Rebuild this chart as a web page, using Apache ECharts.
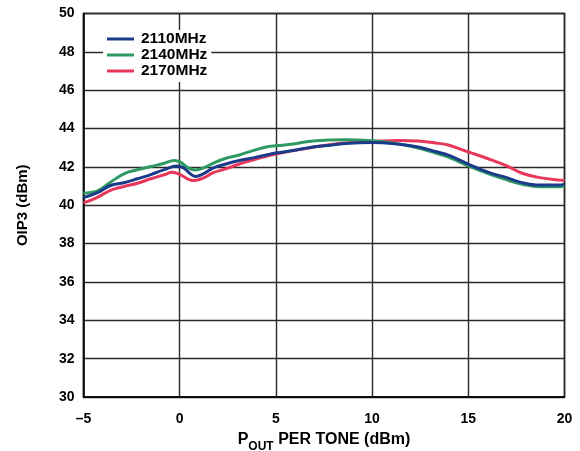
<!DOCTYPE html>
<html>
<head>
<meta charset="utf-8">
<script src="https://cdn.jsdelivr.net/npm/echarts@6/dist/echarts.min.js"></script>
<style>html,body{margin:0;padding:0;background:#fff}#c{width:580px;height:451px}</style>
</head>
<body>
<div id="c"></div>
<script>
const seriesNames = ['2110MHz', '2140MHz', '2170MHz'];
const xTicks = [-5, 0, 5, 10, 15, 20];
const yTicks = [30, 32, 34, 36, 38, 40, 42, 44, 46, 48, 50];

const x2110 = [-5, -4.3, -3.6, -2.9, -2.2, -1.5, -0.8, -0.15, 0.2, 0.55, 0.8, 1.25, 1.75, 2.4, 3.1, 3.8, 4.5, 5, 5.9, 6.7, 7.7, 8.6, 10, 11.4, 12.4, 13.3, 14, 15, 16.1, 17, 17.8, 18.7, 19.75, 20];
const y2110 = [40.40, 40.64, 41.03, 41.17, 41.38, 41.6, 41.86, 42.05, 41.95, 41.64, 41.5, 41.65, 41.95, 42.15, 42.33, 42.47, 42.62, 42.72, 42.86, 43.0, 43.12, 43.22, 43.27, 43.18, 43.04, 42.8, 42.6, 42.14, 41.7, 41.44, 41.18, 41.05, 41.05, 41.1];

const x2140 = [-5, -4.3, -3.6, -2.9, -2.2, -1.5, -0.8, -0.3, 0.05, 0.4, 0.8, 1.25, 1.75, 2.4, 3.1, 3.8, 4.5, 5, 5.9, 6.7, 7.7, 8.6, 10, 11.4, 12.4, 13.3, 14, 15, 16.1, 17, 17.8, 18.7, 19.75, 20];
const y2140 = [40.64, 40.74, 41.2, 41.64, 41.85, 42.02, 42.19, 42.33, 42.24, 41.98, 41.84, 41.95, 42.2, 42.45, 42.62, 42.85, 43.04, 43.1, 43.19, 43.33, 43.4, 43.42, 43.36, 43.19, 42.98, 42.72, 42.5, 42.05, 41.62, 41.32, 41.1, 40.96, 40.96, 41.0];

const x2170 = [-5, -4.3, -3.6, -2.9, -2.2, -1.5, -0.8, -0.4, 0.05, 0.4, 0.75, 1.25, 1.75, 2.4, 3.1, 3.8, 4.5, 5, 5.9, 6.7, 7.7, 8.6, 10, 11.4, 12.4, 13.3, 14, 15, 16.1, 17, 17.8, 18.7, 19.75, 20];
const y2170 = [40.12, 40.4, 40.78, 40.98, 41.15, 41.38, 41.59, 41.72, 41.59, 41.38, 41.29, 41.43, 41.7, 41.9, 42.15, 42.36, 42.55, 42.67, 42.85, 42.99, 43.14, 43.25, 43.33, 43.38, 43.35, 43.25, 43.13, 42.78, 42.4, 42.05, 41.67, 41.44, 41.31, 41.3];

const colors = ['#1b3a8a', '#2e9a62', '#e8375b'];
const zip = (xs, ys) => xs.map((x, i) => [x, ys[i]]);
const datasets = [zip(x2110, y2110), zip(x2140, y2140), zip(x2170, y2170)];

const font = 'Liberation Sans, Arial, Helvetica, sans-serif';
const chart = echarts.init(document.getElementById('c'), null, {renderer: 'canvas'});
chart.setOption({
  animation: false,
  backgroundColor: '#fff',
  grid: {left: 83.5, top: 13.5, right: 15.5, bottom: 54, containLabel: false, outerBoundsMode: 'none',
    show: true, borderColor: '#000', borderWidth: 1.5, backgroundColor: 'transparent'},
  legend: {
    orient: 'vertical', left: 103, top: 30, itemWidth: 27, itemHeight: 3, itemGap: 0,
    icon: 'rect', backgroundColor: '#fff', padding: [1, 4, 3, 4],
    textStyle: {fontFamily: font, fontWeight: 'bold', fontSize: 15.5, lineHeight: 16, color: '#000', padding: [0, 0, 0, 2]},
    data: seriesNames
  },
  xAxis: {
    type: 'value', min: xTicks[0], max: xTicks[xTicks.length - 1], interval: 5,
    axisLine: {show: true, onZero: false, lineStyle: {color: '#000', width: 1.5}},
    axisTick: {show: false},
    splitLine: {show: true, lineStyle: {color: '#2a2a2a', width: 1.4}},
    axisLabel: {fontFamily: font, fontWeight: 'bold', fontSize: 14, color: '#000', margin: 15,
      formatter: v => (v < 0 ? '\u2013' + Math.abs(v) : String(v))},
    name: '{p|P}{s|OUT}{p| PER TONE (dBm)}', nameLocation: 'middle', nameGap: 35,
    nameTextStyle: {rich: {
      p: {fontFamily: font, fontWeight: 'bold', fontSize: 16, color: '#000', verticalAlign: 'top', lineHeight: 18},
      s: {fontFamily: font, fontWeight: 'bold', fontSize: 12, color: '#000', padding: [9, 0, 0, 0], verticalAlign: 'top', lineHeight: 18}
    }}
  },
  yAxis: {
    type: 'value', min: yTicks[0], max: yTicks[yTicks.length - 1], interval: 2,
    axisLine: {show: true, onZero: false, lineStyle: {color: '#000', width: 1.5}},
    axisTick: {show: false},
    splitLine: {show: true, lineStyle: {color: '#2a2a2a', width: 1.4}},
    axisLabel: {fontFamily: font, fontWeight: 'bold', fontSize: 14, color: '#000', margin: 9},
    name: 'OIP3 (dBm)', nameLocation: 'middle', nameGap: 53,
    nameTextStyle: {fontFamily: font, fontWeight: 'bold', fontSize: 15, color: '#000'}
  },
  series: seriesNames.map((n, i) => ({
    name: n, type: 'line', data: datasets[i], smooth: 0.4, showSymbol: false,
    lineStyle: {color: colors[i], width: 3}, itemStyle: {color: colors[i]}, z: 3 - i
  }))
});
</script>
</body>
</html>
